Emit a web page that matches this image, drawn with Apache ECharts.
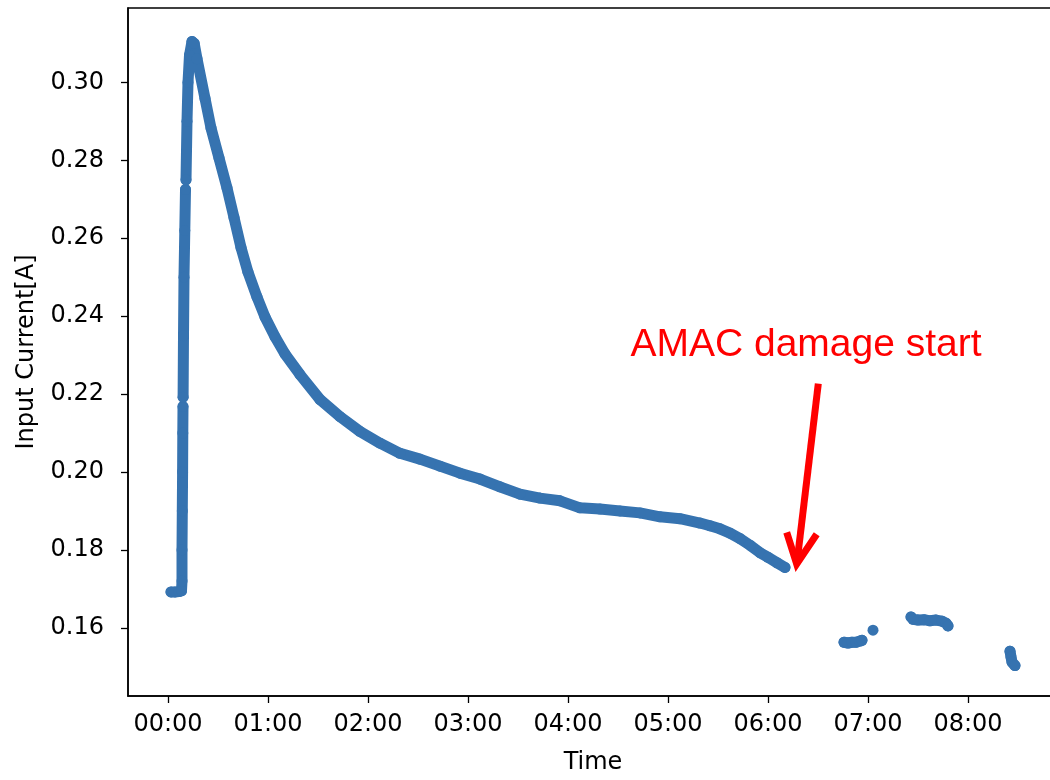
<!DOCTYPE html>
<html><head><meta charset="utf-8">
<script src="https://cdn.jsdelivr.net/npm/echarts@6/dist/echarts.min.js"></script>
<style>html,body{margin:0;padding:0;overflow:hidden;background:#fff}#c{width:1060px;height:780px}</style>
</head><body><div id="c"></div><script>
// x in hours since start, y in amperes
const xTickValues = [0, 1, 2, 3, 4, 5, 6, 7, 8];
const yTickValues = [0.16, 0.18, 0.20, 0.22, 0.24, 0.26, 0.28, 0.30];
const flatAndRise = [[0.03,0.1692],[0.07,0.1692],[0.11,0.1693],[0.135,0.1695],[0.14,0.1720],[0.14,0.1800],[0.143,0.1900],[0.146,0.2000],[0.148,0.2100],[0.150,0.2168]];
const riseMid = [[0.151,0.2192],[0.155,0.2350],[0.160,0.2500],[0.168,0.2620],[0.175,0.2725]];
const peakAndDecay = [[0.180,0.2750],[0.190,0.2900],[0.200,0.3000],[0.215,0.3070],[0.240,0.3105],[0.262,0.3100],[0.290,0.3061],[0.370,0.2959],[0.430,0.2883],[0.510,0.2806],[0.590,0.2729],[0.660,0.2653],[0.730,0.2576],[0.800,0.2513],[0.890,0.2449],[0.970,0.2398],[1.070,0.2347],[1.170,0.2303],[1.320,0.2250],[1.520,0.2186],[1.720,0.2142],[1.920,0.2104],[2.120,0.2074],[2.320,0.2048],[2.520,0.2033],[2.720,0.2015],[2.920,0.1997],[3.120,0.1982],[3.320,0.1962],[3.520,0.1943],[3.720,0.1933],[3.920,0.1926],[4.120,0.1908],[4.320,0.1905],[4.520,0.1900],[4.720,0.1895],[4.920,0.1885],[5.120,0.1880],[5.320,0.1869],[5.420,0.1862],[5.520,0.1854],[5.620,0.1843],[5.720,0.1829],[5.820,0.1812],[5.920,0.1793],[6.000,0.1781],[6.090,0.1767],[6.170,0.1755]];
const cluster1 = [[6.76,0.1563],[6.80,0.1561],[6.84,0.1563],[6.88,0.1563],[6.92,0.1566],[6.94,0.1568]];
const isolatedPoint = [[7.05,0.1594]];
const cluster2 = [[7.43,0.1628],[7.45,0.1622],[7.50,0.1620],[7.56,0.1621],[7.62,0.1618],[7.68,0.1620],[7.74,0.1617],[7.78,0.1612],[7.80,0.1605]];
const cluster3 = [[8.42,0.1540],[8.43,0.1525],[8.44,0.1512],[8.47,0.1503]];
const annotationText = 'AMAC damage start';
const annotationPos = [6.38, 0.2326];
const arrowShaft = [[6.503,0.2227],[6.290,0.1768]];
const arrowHead = [[6.187,0.1845],[6.287,0.1764],[6.487,0.1840]];

const BLUE = '#3673b0';
const FONT = 'DejaVu Sans';
function seg(data){
  return {type:'line', data:data, symbol:'circle', symbolSize:11, showSymbol:true,
    itemStyle:{color:BLUE}, lineStyle:{color:BLUE, width:11, cap:'round', join:'round'},
    animation:false, silent:true, clip:true};
}
function fmtTime(h){ return String(h).padStart(2,'0') + ':00'; }

const chart = echarts.init(document.getElementById('c'), null, {renderer:'canvas'});
chart.setOption({
  animation:false,
  grid:{left:128, top:8, right:2, bottom:79, show:true, borderColor:'#000', borderWidth:1.5, backgroundColor:'transparent'},
  xAxis:{type:'value', min:-0.4, max:8.9, name:'Time', nameLocation:'middle', nameGap:55,
    nameTextStyle:{fontFamily:FONT, fontSize:24, color:'#000'},
    axisLine:{onZero:false, lineStyle:{color:'#000', width:1.5}},
    axisTick:{show:true, length:7, customValues:xTickValues, lineStyle:{color:'#000', width:1.3}},
    axisLabel:{customValues:xTickValues, formatter:fmtTime, fontFamily:FONT, fontSize:24, color:'#000', margin:17},
    splitLine:{show:false}},
  yAxis:{type:'value', min:0.1425, max:0.3191, name:'Input Current[A]', nameLocation:'middle', nameGap:89, nameRotate:90,
    nameTextStyle:{fontFamily:FONT, fontSize:24, color:'#000'},
    axisLine:{show:true, onZero:false, lineStyle:{color:'#000', width:1.5}},
    axisTick:{show:true, length:7, customValues:yTickValues, lineStyle:{color:'#000', width:1.3}},
    axisLabel:{customValues:yTickValues, formatter:v=>v.toFixed(2), fontFamily:FONT, fontSize:24, color:'#000', margin:24},
    splitLine:{show:false}},
  series:[seg(flatAndRise), seg(riseMid), seg(peakAndDecay), seg(cluster1), seg(isolatedPoint), seg(cluster2), seg(cluster3)]
});

const P = v => chart.convertToPixel({gridIndex:0}, v);
const s0 = P(arrowShaft[0]), s1 = P(arrowShaft[1]);
const tp = P(annotationPos);
chart.setOption({graphic:[
  {type:'line', shape:{x1:s0[0], y1:s0[1], x2:s1[0], y2:s1[1]}, style:{stroke:'#ff0000', lineWidth:7}, z:100},
  {type:'polyline', shape:{points:arrowHead.map(P)}, style:{stroke:'#ff0000', lineWidth:7, fill:null, lineJoin:'miter'}, z:100},
  {type:'text', x:tp[0], y:tp[1], style:{text:annotationText, fill:'#ff0000', font:'39px "Liberation Sans"', textAlign:'center', textVerticalAlign:'middle'}, z:100}
]});
</script></body></html>
